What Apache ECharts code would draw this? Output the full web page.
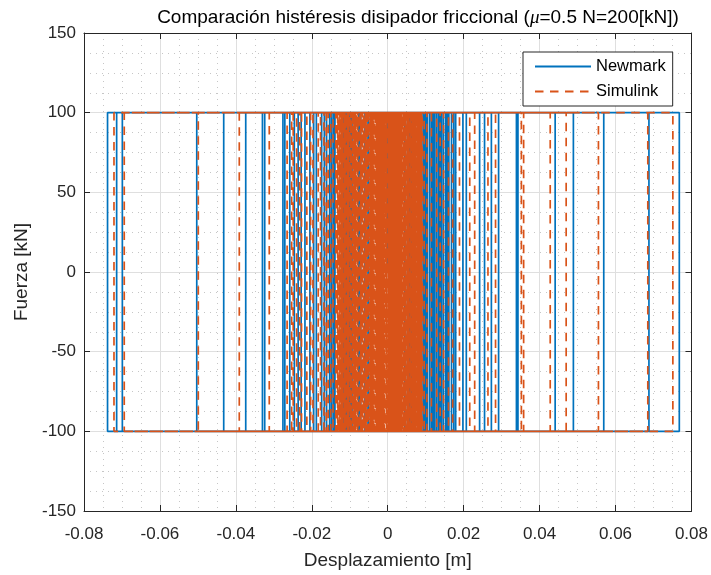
<!DOCTYPE html>
<html>
<head>
<meta charset="utf-8">
<script src="https://cdn.jsdelivr.net/npm/echarts@6/dist/echarts.min.js"></script>
<style>
  html, body { margin: 0; padding: 0; background: #fff; }
  #chart { width: 711px; height: 575px; }
</style>
</head>
<body>
<div id="chart"></div>
<script>
// Axis ticks and their labels
const xTickValues = [-0.08, -0.06, -0.04, -0.02, 0, 0.02, 0.04, 0.06, 0.08];
const xTickLabels = ['-0.08', '-0.06', '-0.04', '-0.02', '0', '0.02', '0.04', '0.06', '0.08'];
const yTickValues = [-150, -100, -50, 0, 50, 100, 150];
const yTickLabels = ['-150', '-100', '-50', '0', '50', '100', '150'];

// Slip force of the friction damper, mu * N [kN]
const slipForce = 100;

// Displacements [m] at which the damper force reverses, in time order
// (alternating: peak to the right, then peak to the left, ...)
const newmarkReversals = [
  0.0045, -0.0071,
  0.0097, -0.0113,
  0.0168, -0.0205,
  0.0292, -0.0330,
  0.0441, -0.0503,
  0.0768, -0.0738,
  0.0688, -0.0714,
  0.0569, -0.0699,
  0.0489, -0.0432,
  0.0343, -0.0374,
  0.0339, -0.0324,
  0.0273, -0.0276,
  0.0255, -0.0271,
  0.0242, -0.0246,
  0.0207, -0.0236,
  0.0198, -0.0218,
  0.0179, -0.0188,
  0.0161, -0.0174,
  0.0153, -0.0161,
  0.0142, -0.0148,
  0.0134, -0.0139,
  0.0124, -0.0118,
  0.0116, -0.0105,
  0.0105, -0.0097,
  0.0101, -0.0258,
  0.0111, -0.0228,
  0.0120, -0.0195,
  0.0129, -0.0167,
  0.0138, -0.0153,
  0.0147, -0.0143,
  0.0157, -0.0101,
  0.0174, -0.0109,
  0.0093, -0.0116,
  0.0063, -0.0094,
  0.0079, -0.0072,
  0.0084, -0.0076,
  0.0071, -0.0060,
  0.0058, -0.0052,
  0.0047, -0.0050
];

const simulinkReversals = [
  0.0042, -0.0050,
  0.0089, -0.0095,
  0.0171, -0.0197,
  0.0284, -0.0312,
  0.0428, -0.0499,
  0.0751, -0.0721,
  0.0685, -0.0694,
  0.0555, -0.0391,
  0.0470, -0.0265,
  0.0358, -0.0253,
  0.0352, -0.0240,
  0.0264, -0.0227,
  0.0229, -0.0213,
  0.0216, -0.0183,
  0.0189, -0.0168,
  0.0147, -0.0157,
  0.0129, -0.0144,
  0.0160, -0.0249,
  0.0138, -0.0232,
  0.0115, -0.0203,
  0.0103, -0.0132,
  0.0096, -0.0177,
  0.0091, -0.0162,
  0.0087, -0.0150,
  0.0085, -0.0137,
  0.0082, -0.0126,
  0.0049, -0.0127,
  0.0079, -0.0130,
  0.0011, -0.0093,
  0.0076, -0.0121,
  0.0072, -0.0119,
  0.0073, -0.0123,
  0.0027, -0.0087,
  0.0071, -0.0118,
  0.0061, -0.0108,
  0.0068, -0.0116,
  0.0004, -0.0075,
  0.0066, -0.0113,
  0.0081, -0.0129,
  0.0063, -0.0111,
  0.0033, -0.0097,
  0.0060, -0.0107,
  0.0057, -0.0114,
  0.0058, -0.0100,
  0.0015, -0.0083,
  0.0055, -0.0103,
  0.0065, -0.0105,
  0.0052, -0.0098,
  0.0023, -0.0091,
  0.0050, -0.0089,
  0.0046, -0.0124,
  0.0047, -0.0092,
  0.0009, -0.0078,
  0.0044, -0.0086,
  0.0070, -0.0110,
  0.0040, -0.0084,
  0.0031, -0.0068,
  0.0039, -0.0079,
  0.0053, -0.0101,
  0.0038, -0.0081,
  0.0019, -0.0063,
  0.0037, -0.0074,
  0.0075, -0.0133,
  0.0034, -0.0077,
  0.0002, -0.0057,
  0.0036, -0.0066,
  0.0041, -0.0131,
  0.0088, -0.0064,
  0.0056, -0.0096,
  0.0078, -0.0052,
  0.0043, -0.0117,
  0.0069, -0.0085,
  0.0090, -0.0106,
  0.0048, -0.0073,
  0.0062, -0.0125,
  0.0084, -0.0090,
  0.0054, -0.0059,
  0.0074, -0.0112,
  0.0045, -0.0082,
  0.0067, -0.0099,
  0.0086, -0.0067,
  0.0051, -0.0120,
  0.0077, -0.0088,
  0.0059, -0.0070,
  0.0064, -0.0104,
  0.0080, -0.0062,
  0.0030, -0.0071,
  0.0033, -0.0061,
  0.0026, -0.0069,
  0.0035, -0.0055,
  0.0021, -0.0064,
  0.0019, -0.0058,
  0.0016, -0.0053,
  0.0012, -0.0048,
  0.0036, -0.0046,
  0.0033, -0.0044,
  0.0037, -0.0041,
  0.0031, -0.0047,
  0.0029, -0.0039,
  0.0034, -0.0043,
  0.0026, -0.0036,
  0.0032, -0.0045,
  0.0024, -0.0034,
  0.0030, -0.0040,
  0.0021, -0.0031,
  0.0027, -0.0038,
  0.0019, -0.0029,
  0.0035, -0.0042,
  0.0017, -0.0027,
  0.0025, -0.0033,
  0.0014, -0.0024,
  0.0023, -0.0035,
  0.0012, -0.0022,
  0.0028, -0.0037,
  0.0010, -0.0019,
  0.0020, -0.0030,
  0.0008, -0.0017,
  0.0016, -0.0026,
  0.0006, -0.0014,
  0.0022, -0.0032,
  0.0004, -0.0012,
  0.0018, -0.0028,
  0.0002, -0.0009,
  0.0013, -0.0023,
  0.0001, -0.0007,
  0.0011, -0.0021,
  -0.0001, -0.0005,
  0.0009, -0.0018,
  0.0003, -0.0011,
  0.0015, -0.0025,
  0.0007, -0.0015,
  0.0005, -0.0013,
  -0.0002, -0.0010,
  0.0011, -0.0016,
  0.0008, -0.0020,
  0.0035, -0.0045,
  0.0027, -0.0041,
  0.0032, -0.0038,
  0.0018, -0.0033,
  0.0024, -0.0047,
  0.0009, -0.0026,
  0.0036, -0.0030,
  0.0006, -0.0021,
  0.0014, -0.0036,
  0.0003, -0.0016,
  0.0029, -0.0043,
  0.0001, -0.0012,
  0.0021, -0.0039,
  -0.0003, -0.0008,
  0.0011, -0.0024,
  0.0031, -0.0034,
  0.0005, -0.0019,
  0.0017, -0.0028,
  0.0008, -0.0006,
  0.0025, -0.0044,
  0.0013, -0.0003
];

// Rigid-plastic friction loop: vertical jump at each reversal, sliding at +/- slip force between them
function hysteresisPath(reversals) {
  const pts = [[0, 0]];
  let f = slipForce;
  pts.push([0, f]);
  for (const d of reversals) {
    pts.push([d, f]);
    f = -f;
    pts.push([d, f]);
  }
  return pts;
}

const FONT = 'Liberation Sans, Arial, Helvetica, sans-serif';
const AXIS_COLOR = '#262626';
const BLUE = '#0072BD';
const ORANGE = '#D95319';

function labelFrom(values, labels) {
  return function (v) {
    let best = 0;
    for (let i = 1; i < values.length; i++) {
      if (Math.abs(values[i] - v) < Math.abs(values[best] - v)) best = i;
    }
    return labels[best];
  };
}

const majorGrid = { show: true, lineStyle: { color: '#dfdfdf', width: 1 } };
const minorGrid = { show: true, lineStyle: { color: '#c6c6c6', width: 1, type: [1, 5] } };
const inTick = { show: true, inside: true, length: 6, lineStyle: { color: AXIS_COLOR, width: 1 } };
const axisLine = { show: true, onZero: false, lineStyle: { color: AXIS_COLOR, width: 1 } };

const xBase = { type: 'value', min: xTickValues[0], max: xTickValues[xTickValues.length - 1], interval: 0.02 };
const yBase = { type: 'value', min: yTickValues[0], max: yTickValues[yTickValues.length - 1], interval: 50 };

const chart = echarts.init(document.getElementById('chart'), null, { renderer: 'canvas' });

chart.setOption({
  animation: false,
  backgroundColor: '#fff',
  title: {
    text: '{n|Comparación histéresis disipador friccional (}{m|μ}{n|=0.5 N=200[kN])}',
    left: 413,
    top: 3,
    textAlign: 'center',
    textStyle: {
      fontWeight: 'normal',
      rich: {
        n: { fontFamily: FONT, fontSize: 19, fontWeight: 'normal', color: '#000' },
        m: { fontFamily: 'Liberation Serif, DejaVu Serif, serif', fontStyle: 'italic', fontWeight: 'normal', fontSize: 19, color: '#000' }
      }
    }
  },
  grid: { left: 84, right: 19, top: 33, bottom: 64, containLabel: false },
  legend: {
    data: ['Newmark', 'Simulink'],
    orient: 'vertical',
    left: 523,
    top: 52,
    padding: [6, 7, 6, 11],
    itemGap: 8,
    itemWidth: 56,
    itemHeight: 16,
    backgroundColor: '#fff',
    borderColor: AXIS_COLOR,
    borderWidth: 1,
    borderRadius: 0,
    itemStyle: { color: 'rgba(0,0,0,0)', borderWidth: 0, opacity: 0 },
    textStyle: { fontFamily: FONT, fontSize: 16.5, color: '#000' }
  },
  xAxis: [
    Object.assign({}, xBase, {
      position: 'bottom',
      name: 'Desplazamiento [m]',
      nameLocation: 'middle',
      nameGap: 40,
      nameTextStyle: { fontFamily: FONT, fontSize: 19, color: AXIS_COLOR },
      axisLine: axisLine,
      axisTick: inTick,
      minorTick: { show: false, splitNumber: 4 },
      axisLabel: {
        fontFamily: FONT, fontSize: 17, color: AXIS_COLOR, margin: 15,
        showMinLabel: true, showMaxLabel: true,
        formatter: labelFrom(xTickValues, xTickLabels)
      },
      splitLine: majorGrid,
      minorSplitLine: minorGrid
    }),
    Object.assign({}, xBase, {
      position: 'top',
      axisLine: axisLine,
      axisTick: inTick,
      axisLabel: { show: false },
      splitLine: { show: false }
    })
  ],
  yAxis: [
    Object.assign({}, yBase, {
      position: 'left',
      name: 'Fuerza [kN]',
      nameLocation: 'middle',
      nameRotate: 90,
      nameGap: 38,
      nameTextStyle: { fontFamily: FONT, fontSize: 19, color: AXIS_COLOR },
      axisLine: axisLine,
      axisTick: inTick,
      minorTick: { show: false, splitNumber: 4 },
      axisLabel: {
        fontFamily: FONT, fontSize: 17, color: AXIS_COLOR, margin: 8,
        showMinLabel: true, showMaxLabel: true,
        formatter: labelFrom(yTickValues, yTickLabels)
      },
      splitLine: majorGrid,
      minorSplitLine: minorGrid
    }),
    Object.assign({}, yBase, {
      position: 'right',
      axisLine: axisLine,
      axisTick: inTick,
      axisLabel: { show: false },
      splitLine: { show: false }
    })
  ],
  series: [
    {
      name: 'Newmark',
      type: 'line',
      xAxisIndex: 0,
      yAxisIndex: 0,
      data: hysteresisPath(newmarkReversals),
      showSymbol: false,
      symbol: 'none',
      silent: true,
      clip: true,
      lineStyle: { color: BLUE, width: 1.7, type: 'solid' },
      itemStyle: { color: BLUE }
    },
    {
      name: 'Simulink',
      type: 'line',
      xAxisIndex: 0,
      yAxisIndex: 0,
      data: hysteresisPath(simulinkReversals),
      showSymbol: false,
      symbol: 'none',
      silent: true,
      clip: true,
      lineStyle: { color: ORANGE, width: 1.7, type: [8.5, 6.5] },
      itemStyle: { color: ORANGE }
    }
  ]
});
</script>
</body>
</html>
